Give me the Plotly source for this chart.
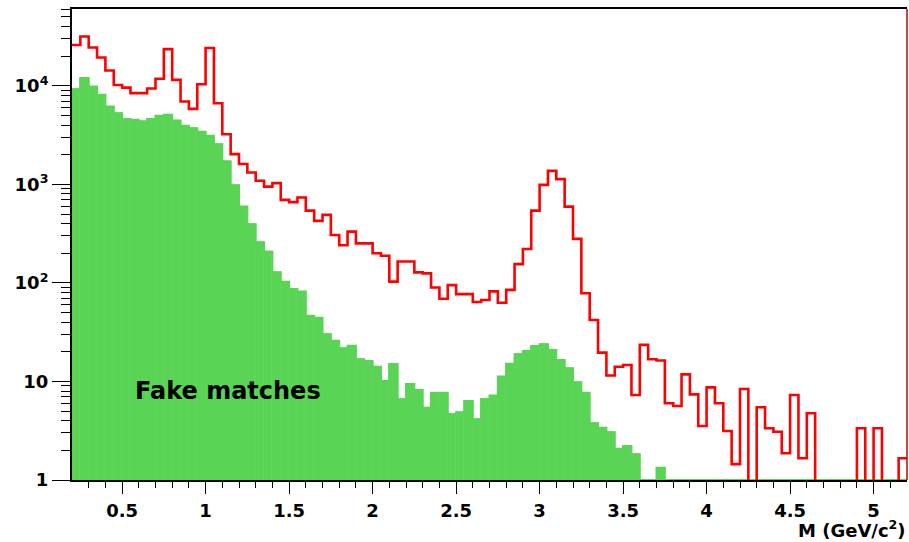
import numpy as np
import plotly.graph_objects as go

# Binning: 100 bins of 0.05 GeV/c^2 between 0.2 and 5.2
m_low, m_high, n_bins = 0.2, 5.2, 100
bin_width = (m_high - m_low) / n_bins

# All dimuon candidates (red outline)
all_counts = [
    26000, 31700, 24500, 19400, 14300, 10200, 9600, 8430, 8430, 9400,
    11800, 23600, 11500, 6930, 5840, 10400, 24200, 6670, 3230, 2030,
    1610, 1320, 1090, 950, 1030, 697, 660, 735, 542, 426,
    490, 307, 241, 332, 252, 252, 200, 189, 103, 165,
    165, 128, 125, 90, 69, 95, 77, 77, 64, 67,
    82, 63, 85, 155, 221, 542, 988, 1370, 1130, 595,
    280, 78.5, 42, 19.6, 11.5, 14.1, 14.7, 7.3, 23.5, 16.8,
    16.3, 6.0, 5.64, 11.8, 7.4, 3.53, 8.7, 6.0, 3.14, 1.45,
    8.4, 0, 5.47, 3.35, 3.09, 1.87, 7.3, 1.66, 4.75, 0,
    0, 0, 0, 0, 3.35, 0, 3.35, 0, 0, 1.66,
]

# Fake matches (green filled)
fake_counts = [
    9250, 12000, 9840, 8110, 6170, 5280, 4620, 4520, 4350, 4620,
    4960, 5080, 4450, 3930, 3720, 3430, 3110, 2560, 1710, 980,
    595, 395, 259, 208, 128, 103, 87, 81.7, 46.5, 44.4,
    30.1, 25.9, 21.7, 23.1, 16.8, 16.1, 14.1, 10.1, 15.0, 6.6,
    9.4, 8.2, 5.42, 7.7, 7.7, 4.65, 4.87, 6.34, 4.13, 6.6,
    7.2, 11.2, 15.1, 18.9, 20.4, 22.9, 23.8, 20.9, 16.5, 13.6,
    9.8, 7.7, 3.76, 3.4, 3.05, 2.07, 2.21, 1.82, 0, 0,
    1.33, 0, 0, 0, 0, 0, 0, 0, 0, 0,
    0, 0, 0, 0, 0, 0, 0, 0, 0, 0,
    0, 0, 0, 0, 0, 0, 0, 0, 0, 0,
]

x_ticks = [0.5, 1, 1.5, 2, 2.5, 3, 3.5, 4, 4.5, 5]
y_ticks = [1, 10, 100, 1000, 10000]
y_ticktext = ["1", "10", "10<sup>2</sup>", "10<sup>3</sup>", "10<sup>4</sup>"]
label_text = "Fake matches"
x_title = "M (GeV/c<sup>2</sup>)"

GREEN = "#59d454"
RED = "#ff0000"
FONT = "DejaVu Sans"

edges = m_low + bin_width * np.arange(n_bins + 1)
centers = 0.5 * (edges[:-1] + edges[1:])
all_arr = np.array(all_counts, dtype=float)
fake_arr = np.array(fake_counts, dtype=float)

fig = go.Figure()

# filled histogram
fig.add_trace(go.Bar(
    x=centers, y=np.where(fake_arr > 0, fake_arr, np.nan), width=bin_width,
    marker=dict(color=GREEN, line=dict(color=GREEN, width=0.6)),
    showlegend=False, hoverinfo="skip",
))
# its outline, resting on the axis where bins are empty
fake_line = np.maximum(fake_arr, 1.0)
fig.add_trace(go.Scatter(
    x=np.append(edges[:-1], edges[-1]), y=np.append(fake_line, fake_line[-1]),
    mode="lines", line=dict(color=GREEN, width=2, shape="hv"),
    showlegend=False, hoverinfo="skip",
))

# outlined histogram: empty bins drop below the visible range
all_line = np.where(all_arr > 0, all_arr, 0.1)
fig.add_trace(go.Scatter(
    x=np.append(edges[:-1], edges[-1]), y=np.append(all_line, all_line[-1]),
    mode="lines", line=dict(color=RED, width=2.6, shape="hv"),
    showlegend=False, hoverinfo="skip",
))

minor_x = [v for v in np.round(np.arange(0.3, 5.2, 0.1), 2) if abs(v * 2 - round(v * 2)) > 1e-6]
minor_y = [k * 10 ** d for d in range(0, 5) for k in range(2, 10) if k * 10 ** d < 6.1e4]

fig.update_layout(
    width=909, height=542,
    margin=dict(l=72, r=2, t=9, b=62),
    paper_bgcolor="white", plot_bgcolor="white",
    bargap=0,
    xaxis=dict(
        range=[m_low, m_high], tickvals=x_ticks,
        showgrid=False, zeroline=False,
        showline=True, linecolor="black", linewidth=1.5, mirror=True,
        ticks="outside", ticklen=12, tickwidth=1.3, tickcolor="black",
        ticklabelstandoff=2,
        tickfont=dict(family=FONT, size=18, color="black", weight="bold"),
        minor=dict(tickvals=minor_x, ticks="outside", ticklen=6, tickwidth=1.2, tickcolor="black", showgrid=False),
    ),
    yaxis=dict(
        type="log", range=[0, 4.78],
        tickvals=y_ticks, ticktext=y_ticktext,
        showgrid=False, zeroline=False,
        showline=True, linecolor="black", linewidth=2,
        ticks="outside", ticklen=18, tickwidth=1.3, tickcolor="black",
        tickfont=dict(family=FONT, size=18, color="black", weight="bold"),
        minor=dict(tickvals=minor_y, ticks="outside", ticklen=9, tickwidth=1.2, tickcolor="black", showgrid=False),
    ),
    annotations=[
        dict(text=label_text, x=0.565, y=0.189, xref="x", yref="paper",
             xanchor="left", yanchor="middle", showarrow=False,
             font=dict(family=FONT, size=24, color="black", weight="bold")),
        dict(text=x_title, x=1.0, y=-0.131, xref="paper", yref="paper",
             xanchor="right", yanchor="bottom", showarrow=False, borderpad=0,
             font=dict(family=FONT, size=18, color="black", weight="bold")),
    ],
    shapes=[
        dict(type="line", xref="paper", yref="paper", x0=1, x1=1, y0=0, y1=1,
             line=dict(color="#c00000", width=1.5)),
    ],
)

fig.write_html("out.html")
